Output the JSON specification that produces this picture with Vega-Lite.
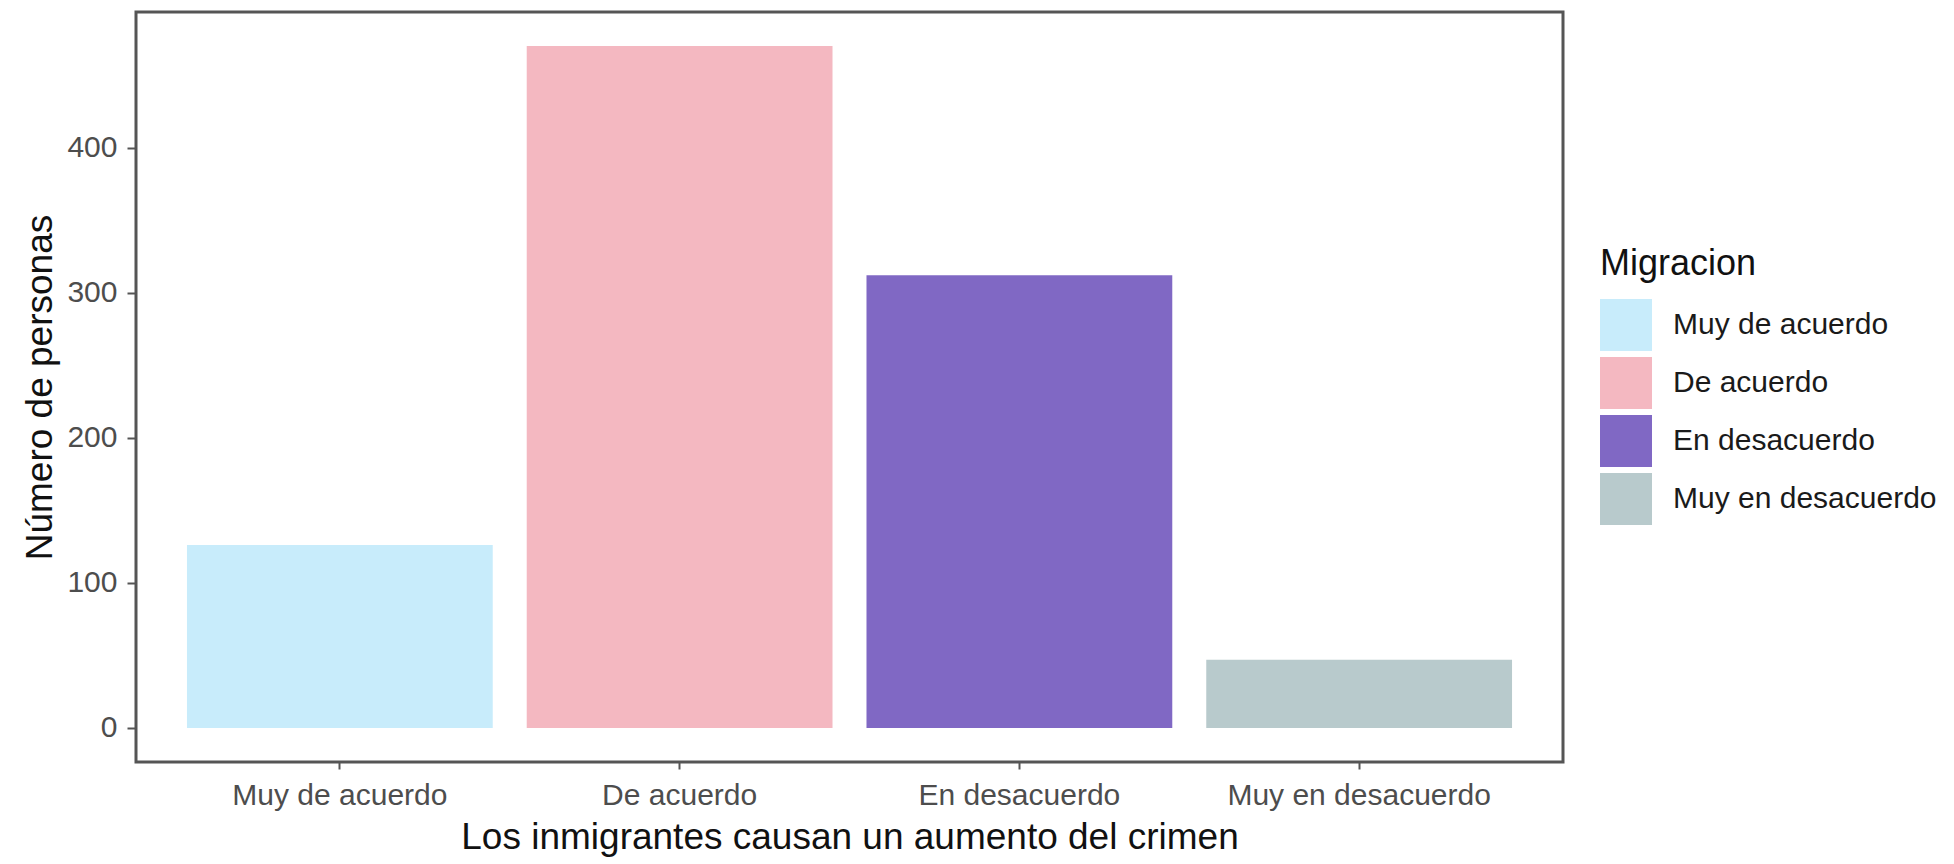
{
  "$schema": "https://vega.github.io/schema/vega-lite/v6.json",
  "autosize": {"type": "none"},
  "padding": {"left": 136, "top": 12, "right": 391, "bottom": 102},
  "width": 1427,
  "height": 750,
  "background": "white",
  "data": {
    "values": [
      {"respuesta": "Muy de acuerdo", "personas": 126},
      {"respuesta": "De acuerdo", "personas": 470},
      {"respuesta": "En desacuerdo", "personas": 312},
      {"respuesta": "Muy en desacuerdo", "personas": 47}
    ]
  },
  "mark": {"type": "bar"},
  "encoding": {
    "x": {
      "field": "respuesta",
      "type": "nominal",
      "sort": ["Muy de acuerdo", "De acuerdo", "En desacuerdo", "Muy en desacuerdo"],
      "title": "Los inmigrantes causan un aumento del crimen",
      "scale": {"paddingInner": 0.1, "paddingOuter": 0.15},
      "axis": {"labelAngle": 0, "labelLimit": 0, "tickSize": 7, "labelPadding": 11, "titlePadding": 9}
    },
    "y": {
      "field": "personas",
      "type": "quantitative",
      "title": "Número de personas",
      "scale": {"domain": [-23.5, 493.5], "nice": false, "zero": false},
      "axis": {"values": [0, 100, 200, 300, 400], "tickSize": 9, "labelPadding": 10, "titlePadding": 7}
    },
    "y2": {"datum": 0},
    "color": {
      "field": "respuesta",
      "type": "nominal",
      "title": "Migracion",
      "sort": ["Muy de acuerdo", "De acuerdo", "En desacuerdo", "Muy en desacuerdo"],
      "scale": {
        "domain": ["Muy de acuerdo", "De acuerdo", "En desacuerdo", "Muy en desacuerdo"],
        "range": ["#c8ecfb", "#f4b8c1", "#8068c4", "#b8cacc"]
      },
      "legend": {
        "orient": "none",
        "legendX": 1464,
        "legendY": 235,
        "symbolType": "square",
        "symbolSize": 2704,
        "symbolStrokeWidth": 0,
        "symbolOpacity": 1,
        "rowPadding": 6,
        "titlePadding": 16,
        "labelOffset": 21,
        "labelLimit": 0
      }
    }
  },
  "config": {
    "font": "Liberation Sans",
    "view": {"stroke": "#555555", "strokeWidth": 3},
    "axis": {
      "grid": false,
      "domain": false,
      "tickColor": "#555555",
      "tickWidth": 2,
      "labelFont": "Liberation Sans",
      "labelFontSize": 30,
      "labelColor": "#4d4d4d",
      "titleFont": "Liberation Sans",
      "titleFontSize": 37,
      "titleFontWeight": "normal",
      "titleColor": "#111111"
    },
    "legend": {
      "titleFont": "Liberation Sans",
      "titleFontSize": 36,
      "titleFontWeight": "normal",
      "titleColor": "#111111",
      "labelFont": "Liberation Sans",
      "labelFontSize": 30,
      "labelColor": "#1a1a1a"
    }
  }
}
